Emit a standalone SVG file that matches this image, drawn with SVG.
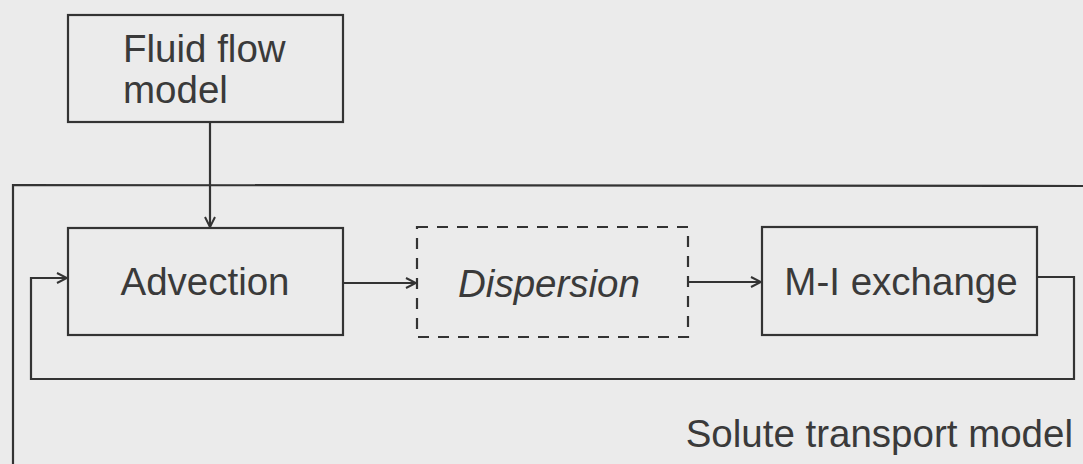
<svg xmlns="http://www.w3.org/2000/svg" width="1083" height="464" viewBox="0 0 1083 464">
  <style>
    .box { fill: none; stroke: #333; stroke-width: 2.2; }
    .dash { stroke-dasharray: 11 9; }
    .wire { fill: none; stroke: #333; stroke-width: 2.2; }
    .lbl { font-family: "Liberation Sans", Arial, sans-serif; font-size: 38.5px; fill: #3a3a3a; }
  </style>
  <defs>
    <marker id="vee" viewBox="0 0 12 12" refX="11" refY="6" markerWidth="12" markerHeight="12" markerUnits="userSpaceOnUse" orient="auto">
      <path d="M1,1 L11,6 L1,11" fill="none" stroke="#333" stroke-width="2"/>
    </marker>
  </defs>
  <rect width="1083" height="464" fill="#ebebeb"/>

  <!-- enclosing solute transport model frame -->
  <g id="solute-transport">
    <path class="box" d="M13,470 L13,185 L1090,186"/>
    <text class="lbl" x="1073" y="447" text-anchor="end">Solute transport model</text>
  </g>

  <g id="fluid-flow">
    <rect class="box" x="68" y="15" width="275" height="107"/>
    <text class="lbl" x="123" y="62">Fluid flow</text>
    <text class="lbl" x="123" y="103">model</text>
  </g>

  <g id="advection">
    <rect class="box" x="68" y="228" width="275" height="107"/>
    <text class="lbl" x="205" y="295" text-anchor="middle">Advection</text>
  </g>

  <g id="dispersion">
    <rect class="box dash" x="417" y="227" width="271" height="110"/>
    <text class="lbl" x="549" y="297" text-anchor="middle" font-style="italic">Dispersion</text>
  </g>

  <g id="mi-exchange">
    <rect class="box" x="762" y="227" width="275" height="108"/>
    <text class="lbl" x="901" y="295" text-anchor="middle">M-I exchange</text>
  </g>

  <g id="connectors">
    <path class="wire" d="M210,122 L210,227" marker-end="url(#vee)"/>
    <path class="wire" d="M343,283 L416,283" marker-end="url(#vee)"/>
    <path class="wire" d="M688,282 L761,282" marker-end="url(#vee)"/>
    <path class="wire" d="M1037,277 L1074,277 L1074,379 L31,379 L31,278 L67,278" marker-end="url(#vee)"/>
  </g>
</svg>
